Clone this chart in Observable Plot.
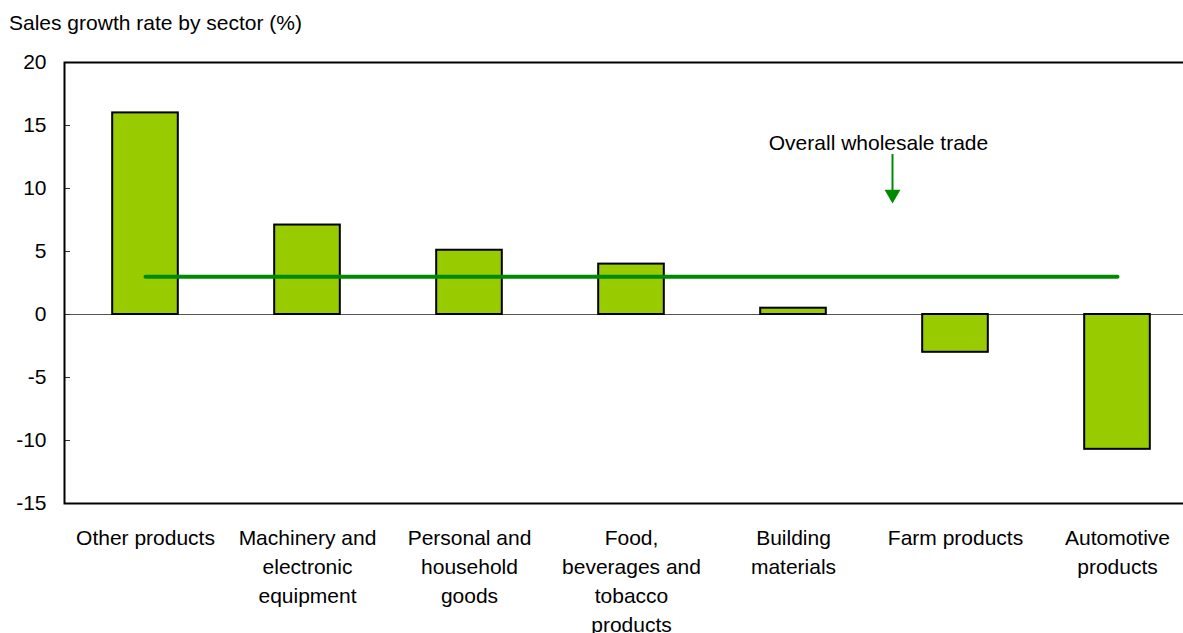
<!DOCTYPE html>
<html>
<head>
<meta charset="utf-8">
<script src="https://cdn.jsdelivr.net/npm/d3@7"></script>
<script src="https://cdn.jsdelivr.net/npm/@observablehq/plot@0.6"></script>
<style>
  html, body { margin: 0; padding: 0; background: white; overflow: hidden; }
  #title {
    box-sizing: border-box; height: 44px; padding: 13px 0 0 9px;
    font: 21px/20px "Liberation Sans", Arial, Helvetica, sans-serif; color: #000;
  }
</style>
</head>
<body>
<div id="title">Sales growth rate by sector (%)</div>
<div id="chart"></div>
<script>
// Wholesale sales growth by sector, percent
const sectors = [
  "Other products",
  "Machinery and electronic equipment",
  "Personal and household goods",
  "Food, beverages and tobacco products",
  "Building materials",
  "Farm products",
  "Automotive products"
];
const sectorLabels = [
  "Other products",
  "Machinery and\nelectronic\nequipment",
  "Personal and\nhousehold\ngoods",
  "Food,\nbeverages and\ntobacco\nproducts",
  "Building\nmaterials",
  "Farm products",
  "Automotive\nproducts"
];
const growth = [16.0, 7.1, 5.1, 4.0, 0.5, -3.0, -10.7];
const overallGrowth = 3.0;
const overallLabel = "Overall wholesale trade";
const yTicks = [-15, -10, -5, 0, 5, 10, 15, 20];

const rows = sectors.map((s, i) => ({sector: s, growth: growth[i]}));
const labelOf = new Map(sectors.map((s, i) => [s, sectorLabels[i]]));

const green = "#008a00";
const font = "'Liberation Sans', Arial, Helvetica, sans-serif";

const chart = Plot.plot({
  width: 1200,
  height: 589,
  marginLeft: 64,
  marginRight: 2,
  marginTop: 18,
  marginBottom: 130,
  style: {fontFamily: font, fontSize: "21px", color: "#000", background: "white", maxWidth: "none", overflow: "visible"},
  x: {domain: sectors, paddingInner: 0.595, paddingOuter: 0.2975, round: false, label: null},
  y: {domain: [-15, 20], label: null},
  marks: [
    Plot.ruleY([0], {stroke: "#555", strokeWidth: 1}),
    Plot.barY(rows, {x: "sector", y: "growth", fill: "#99cc00", stroke: "#000", strokeWidth: 2}),
    Plot.lineY(rows, {x: "sector", y: () => overallGrowth, stroke: green, strokeWidth: 4}),
    // annotation pointing at the overall line
    Plot.text([overallLabel], {x: () => "Farm products", y: 13.6, dx: -77, text: d => d, fill: "#000", fontSize: 21}),
    Plot.ruleX([overallLabel], {x: () => "Farm products", y1: 12.7, y2: 9.8, dx: -63, stroke: green, strokeWidth: 2}),
    Plot.dot([overallLabel], {x: () => "Farm products", y: 9.54, dx: -63, symbol: "triangle", r: 5.9, rotate: 180, fill: green, stroke: "none"}),
    Plot.axisY({ticks: yTicks, tickFormat: d => String(d), tickSize: 6, dx: 6, tickPadding: 18, label: null, fontSize: 21, stroke: "#333"}),
    Plot.axisX({tickSize: 0, tickPadding: 21, tickFormat: d => labelOf.get(d), lineHeight: 1.38, label: null, fontSize: 21}),
    Plot.frame({stroke: "#000", strokeWidth: 2})
  ]
});
document.getElementById("chart").append(chart);
</script>
</body>
</html>
